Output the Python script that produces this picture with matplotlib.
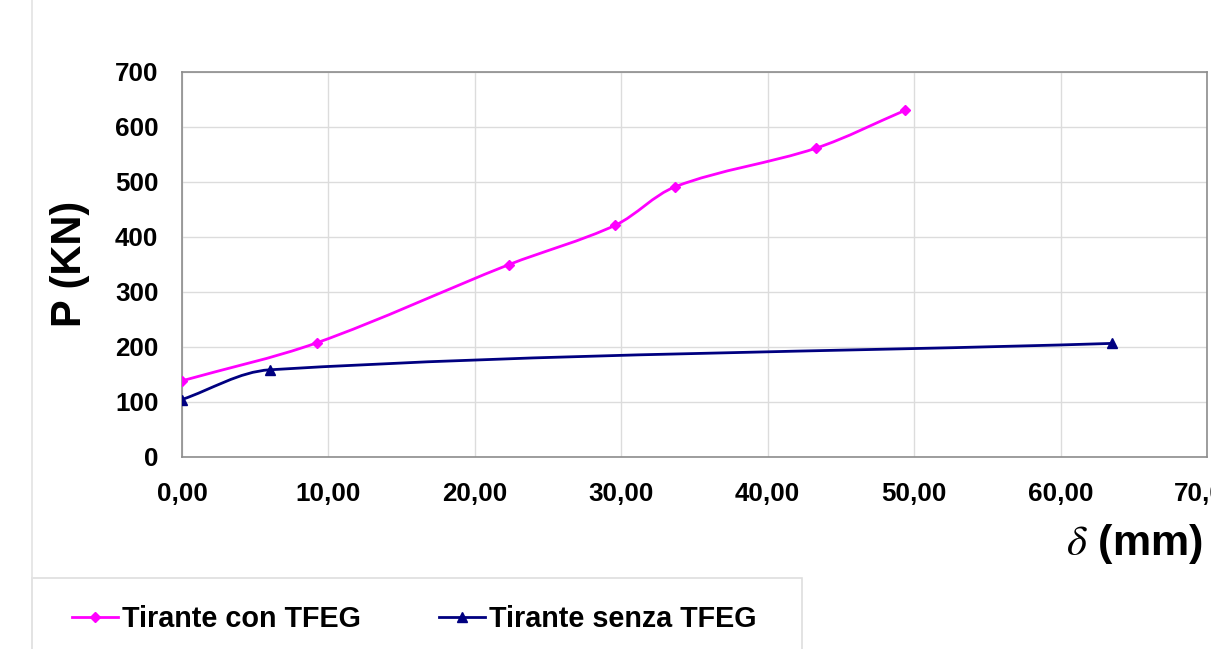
import matplotlib
matplotlib.use("Agg")
import matplotlib.pyplot as plt
import numpy as np
from matplotlib.lines import Line2D
from matplotlib.patches import PathPatch, Rectangle
from matplotlib.path import Path

plt.rcParams["font.family"] = ["Liberation Sans", "DejaVu Sans"]
plt.rcParams["mathtext.fontset"] = "stix"

# ── data ──────────────────────────────────────────────────────────────────────
con_delta = [0.0, 9.2, 22.3, 29.6, 33.7, 43.3, 49.4]      # mm
con_load = [138, 207, 349, 421, 491, 561, 630]             # KN
senza_delta = [0.0, 6.0, 63.5]
senza_load = [104, 158, 206]

x_ticks = [0, 10, 20, 30, 40, 50, 60, 70]
y_ticks = [0, 100, 200, 300, 400, 500, 600, 700]
labels = ["Tirante con TFEG", "Tirante senza TFEG"]

PINK = "#ff00ff"
NAVY = "#000080"

W, H = 1211, 649
AX_L, AX_R, AX_T, AX_B = 182, 1207, 71.7, 456.7


def smooth_path(xs, ys, sx, sy):
    """Excel-like smoothed line: cubic Beziers through the points (pixel space)."""
    pts = np.column_stack([np.asarray(xs, float) * sx, np.asarray(ys, float) * sy])
    n = len(pts)
    verts = [pts[0]]
    codes = [Path.MOVETO]
    for i in range(n - 1):
        p0, p1 = pts[i], pts[i + 1]
        seg = np.linalg.norm(p1 - p0)
        d0 = pts[i + 1] - pts[i - 1] if i > 0 else p1 - p0
        d1 = pts[i + 2] - pts[i] if i + 2 < n else p1 - p0
        d0 = d0 / np.linalg.norm(d0)
        d1 = d1 / np.linalg.norm(d1)
        verts += [p0 + d0 * seg / 3, p1 - d1 * seg / 3, p1]
        codes += [Path.CURVE4] * 3
    verts = np.array(verts) / [sx, sy]
    return Path(verts, codes)


fig = plt.figure(figsize=(W / 100, H / 100), dpi=100, facecolor="white")
ax = fig.add_axes([AX_L / W, 1 - AX_B / H, (AX_R - AX_L) / W, (AX_B - AX_T) / H])

ax.set_xlim(0, 70)
ax.set_ylim(0, 700)
sx = (AX_R - AX_L) / 70
sy = (AX_B - AX_T) / 700

for xs, ys, col, mk, ms in [(con_delta, con_load, PINK, "D", 5),
                            (senza_delta, senza_load, NAVY, "^", 7)]:
    ax.add_patch(PathPatch(smooth_path(xs, ys, sx, sy), fill=False,
                           edgecolor=col, linewidth=2.0, zorder=3))
    ax.plot(xs, ys, linestyle="none", marker=mk, color=col, markersize=ms, zorder=4)

ax.set_xticks(x_ticks)
ax.set_xticklabels([f"{v:.2f}".replace(".", ",") for v in x_ticks])
ax.set_yticks(y_ticks)
ax.set_yticklabels([str(v) for v in y_ticks])
ax.tick_params(length=0, labelsize=18.7)
ax.tick_params(axis="x", pad=18)
ax.tick_params(axis="y", pad=17)
for lab in ax.get_xticklabels() + ax.get_yticklabels():
    lab.set_fontweight("bold")

ax.grid(True, color="#dcdcdc", linewidth=1.0)
ax.set_axisbelow(True)
for sp in ax.spines.values():
    sp.set_edgecolor("#8c8c8c")
    sp.set_linewidth(1.2)

# axis titles
fig.text(70 / W, 1 - 264 / H, "P (KN)", rotation=90, ha="center", va="center",
         fontsize=30, fontweight="bold")
fig.text(1066 / W, 1 - 555 / H, r"$\delta$ (mm)", ha="left", va="baseline",
         fontsize=31, fontweight="bold")

# faint chart-area border and legend box
fig.add_artist(Line2D([32 / W, 32 / W], [0, 1], color="#e3e3e3", linewidth=1.2))
fig.add_artist(Rectangle((32 / W, -0.05), (802 - 32) / W, 0.05 + 1 - 578 / H,
                         transform=fig.transFigure, fill=False,
                         edgecolor="#dedede", linewidth=1.2))

handles = [Line2D([], [], color=PINK, linewidth=2.0, marker="D", markersize=5),
           Line2D([], [], color=NAVY, linewidth=2.0, marker="^", markersize=7)]
fig.legend(handles, labels, ncol=2, frameon=False, loc="center left",
           bbox_to_anchor=(72 / W, 1 - 619 / H), borderpad=0, borderaxespad=0,
           handlelength=1.6, handletextpad=0.15, columnspacing=2.7,
           prop={"size": 20.7, "weight": "bold"})

fig.savefig("out.png", dpi=100, facecolor="white")
